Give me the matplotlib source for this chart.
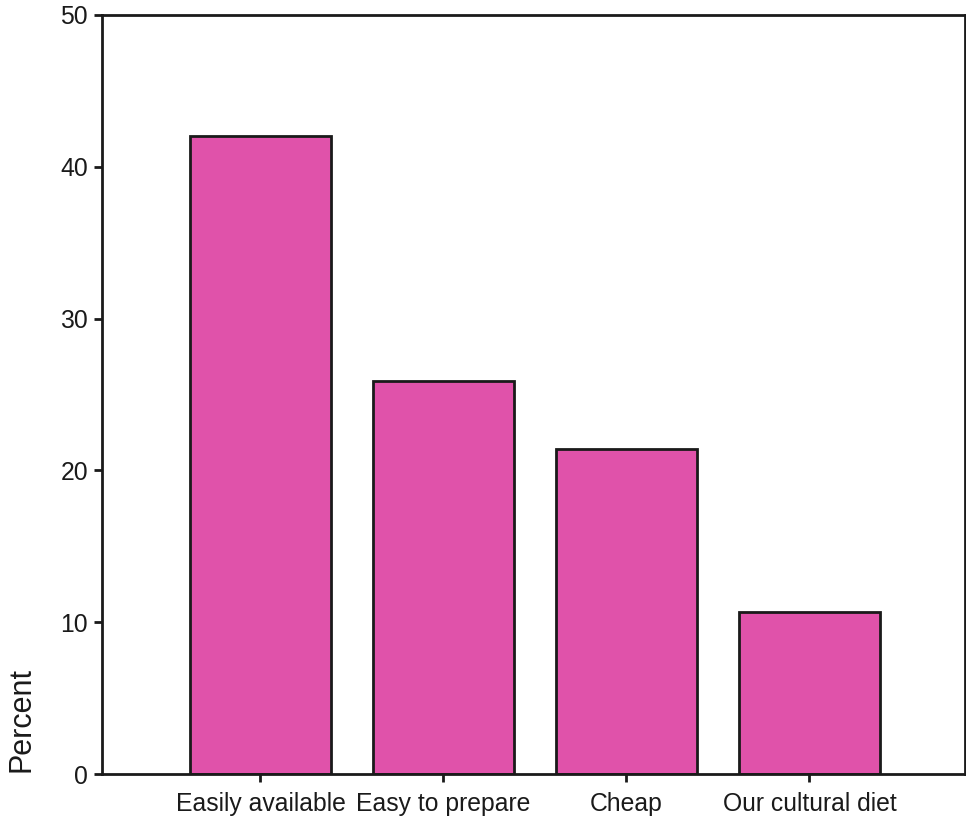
import numpy as np
import matplotlib
matplotlib.use("Agg")
import matplotlib.pyplot as plt

# reasons given (percent of respondents)
categories = ["Easily available", "Easy to prepare", "Cheap", "Our cultural diet"]
percent = [42.0, 25.9, 21.4, 10.7]
y_ticks = [0, 10, 20, 30, 40, 50]

plt.rcParams["font.family"] = ["Liberation Sans", "DejaVu Sans"]

fig = plt.figure(figsize=(9.66, 8.19), dpi=100)
ax = fig.add_axes([0.1056, 0.0549, 0.8934, 0.9268])

x = np.arange(len(categories))
ax.bar(x, percent, width=0.77, color="#e052aa",
       edgecolor="#1a1a1a", linewidth=2.0, zorder=2)

ax.set_xlim(-0.866, 3.85)
ax.set_ylim(0, 50)
ax.set_yticks(y_ticks)
ax.set_xticks(x)
ax.set_xticklabels(categories)

for side in ["left", "right", "top", "bottom"]:
    ax.spines[side].set_linewidth(2.0)
    ax.spines[side].set_color("#1a1a1a")

ax.tick_params(axis="both", direction="out", length=6, width=2,
               color="#1a1a1a", labelsize=17.8, labelcolor="#1a1a1a")
ax.tick_params(axis="x", pad=7)
ax.tick_params(axis="y", pad=4)

fig.text(22 / 966, 1 - 720 / 819, "Percent", rotation=90,
         ha="center", va="center", fontsize=22, color="#1a1a1a")

fig.savefig("out.png", dpi=100)
